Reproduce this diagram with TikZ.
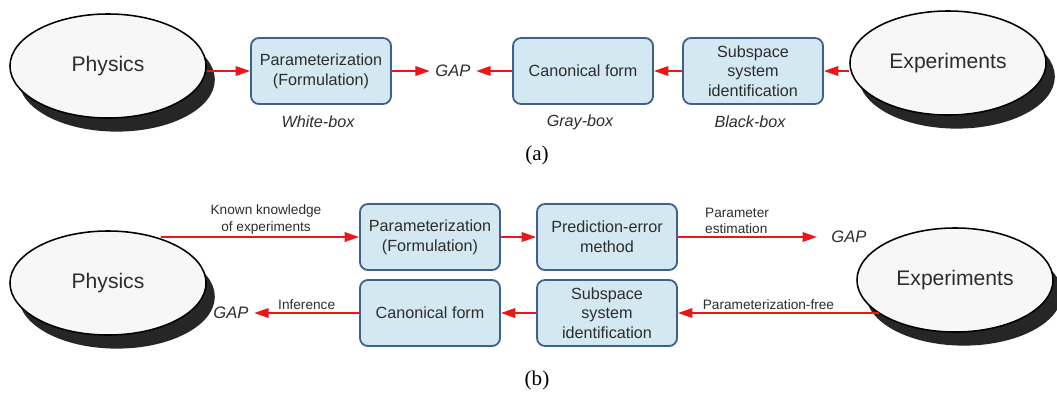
\documentclass[tikz,border=0pt]{standalone}
\usepackage{fontspec}
\setmainfont{Liberation Sans}
\newfontfamily\capfont{Liberation Serif}
\usetikzlibrary{shapes.geometric,shadows,arrows.meta}

\definecolor{boxfill}{RGB}{211,232,241}
\definecolor{boxline}{RGB}{62,96,142}
\definecolor{arrred}{RGB}{236,22,22}
\definecolor{inkgray}{RGB}{45,45,45}

\begin{document}
\begin{tikzpicture}[x=0.025cm,y=-0.025cm,line width=0.75pt,
  box/.style={draw=boxline,fill=boxfill,line width=1.3pt,rounded corners=0.2cm,
    minimum width=3.5cm,minimum height=1.65cm,align=center,text=inkgray,
    font=\fontsize{11.5}{14}\selectfont},
  blob/.style={ellipse,draw=black,fill=gray!6,line width=1.1pt,inner sep=0pt,
    minimum width=4.9cm,minimum height=2.6cm,text=inkgray,
    font=\fontsize{15}{18}\selectfont,
    drop shadow={shadow xshift=0.22cm,shadow yshift=-0.34cm,opacity=1,fill=black!85}},
  arr/.style={draw=arrred,line width=1.2pt,-{Triangle[length=3.6mm,width=2.4mm]}},
  gap/.style={font=\fontsize{11.8}{14}\itshape,text=inkgray,inner sep=1.3mm},
  tag/.style={font=\fontsize{11.5}{14}\itshape,text=inkgray},
  lbl/.style={font=\fontsize{9.7}{12}\selectfont,text=inkgray,align=center,inner sep=1.5pt},
  caption/.style={font=\capfont\fontsize{15}{18}\selectfont}]
  \useasboundingbox (0,0) rectangle (1057,395);

  % (a)
  \node[blob] (physA) at (108,66) {Physics};
  \node[box] (paramA) at (321,71) {Parameterization\\(Formulation)};
  \node[gap] (gapA) at (453,71) {GAP};
  \node[box] (canonA) at (583,71) {Canonical form};
  \node[box] (subA) at (753,71) {Subspace\\system\\identification};
  \node[blob] (expA) at (948,63) {Experiments};
  \node[tag] (whiteA) at (318,122) {White-box};
  \node[tag] (grayA) at (580,122) {Gray-box};
  \node[tag] (blackA) at (750,122) {Black-box};
  \node[caption] (capA) at (537,155) {(a)};

  \draw[arr] (physA.east |- paramA.west) -- (paramA.west);
  \draw[arr] (paramA.east) -- (gapA.west);
  \draw[arr] (canonA.west) -- (gapA.east);
  \draw[arr] (subA.west) -- (canonA.east);
  \draw[arr] (expA.west |- subA.east) -- (subA.east);

  % (b)
  \node[blob] (physB) at (108,283) {Physics};
  \node[box] (paramB) at (430,237) {Parameterization\\(Formulation)};
  \node[box] (predB) at (607,237) {Prediction-error\\method};
  \node[gap] (gapB) at (849,237) {GAP};
  \node[blob] (expB) at (955,280) {Experiments};
  \node[box] (subB) at (607,313) {Subspace\\system\\identification};
  \node[box] (canonB) at (430,313) {Canonical form};
  \node[gap] (gapC) at (231,313) {GAP};
  \node[caption] (capB) at (537,380) {(b)};

  \draw[arr] (paramB.west -| physB.40) -- node[lbl,above,pos=0.53]
    {Known knowledge\\of experiments} (paramB.west);
  \draw[arr] (paramB.east) -- (predB.west);
  \draw[arr,shorten >=2.2mm] (predB.east) -- node[lbl,above,pos=0.4,align=left]
    {Parameter\\estimation} (gapB.west);
  \draw[arr] (subB.east -| expB.204) -- node[lbl,above,pos=0.55]
    {Parameterization-free} (subB.east);
  \draw[arr] (subB.west) -- (canonB.east);
  \draw[arr] (canonB.west) -- node[lbl,above,pos=0.5] {Inference} (gapC.east);
\end{tikzpicture}
\end{document}
